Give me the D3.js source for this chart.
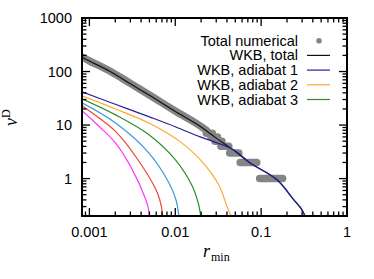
<!DOCTYPE html>
<html>
<head>
<script src="https://d3js.org/d3.v7.min.js"></script>
<style>
body { margin: 0; background: #fff; }
svg { font-family: 'Liberation Sans', Arial, sans-serif; }
</style>
</head>
<body>
<svg width="374" height="279" id="chart"></svg>
<script>
// values: [r_min, nu]
var numericalBand = [[0.00086,182],[0.001,158],[0.00175,101],[0.003,60],[0.005,36.5],[0.01,18.3],[0.0185,10.2],[0.023,8]];
// plateaus of the numerical count: [value, first r, last r]
var numericalSteps = [[7,0.023,0.027],[6,0.026,0.031],[5,0.029,0.035],[4,0.034,0.042],[3,0.043,0.055],[2,0.057,0.089],[1,0.096,0.178]];
var wkbTotal = [[0.00082,185],[0.001,157],[0.00175,100],[0.003,59],[0.005,36],[0.01,18],[0.0185,10],[0.03,5.7],[0.046,3.55],[0.0745,1.96],[0.152,0.96],[0.238,0.41],[0.29,0.28],[0.325,0.2]];
var adiabat1 = [[0.00082,41.8],[0.002,24.5],[0.005,14.2],[0.01,9.3],[0.0195,6.0],[0.0269,5.0],[0.0477,3.47],[0.0745,1.96],[0.152,0.96],[0.238,0.41],[0.29,0.28],[0.325,0.2]];
var adiabat2 = [[0.00082,35],[0.00202,19.9],[0.00494,10.9],[0.012,4.6],[0.0195,2.26],[0.0269,1.2],[0.0333,0.68],[0.0392,0.33],[0.0445,0.2]];
var adiabat3 = [[0.00082,31],[0.00202,15.5],[0.00494,6.6],[0.01,2.26],[0.0158,0.72],[0.0185,0.35],[0.0198,0.2]];
var adiabat4 = [[0.00082,26],[0.00202,10.9],[0.00494,3.0],[0.00845,0.83],[0.0102,0.4],[0.011,0.2]];
var adiabat5 = [[0.00082,23],[0.0013,13.5],[0.00202,7.6],[0.00413,1.7],[0.0062,0.54],[0.0069,0.3],[0.0071,0.2]];
var adiabat6 = [[0.00082,18.5],[0.0013,9.4],[0.00202,4.6],[0.00316,1.47],[0.00452,0.41],[0.0049,0.26],[0.005,0.2]];

var xMajor = [0.001, 0.01, 0.1, 1];
var xMajorLabels = ["0.001", "0.01", "0.1", "1"];
var yMajor = [1, 10, 100, 1000];
var yMajorLabels = ["1", "10", "100", "1000"];
var legendLabels = ["Total numerical", "WKB, total", "WKB, adiabat 1", "WKB, adiabat 2", "WKB, adiabat 3"];

var pLeft = 82, pRight = 347, pTop = 18, pBottom = 216;

var x = d3.scaleLog().domain([0.00082, 1]).range([pLeft, pRight]);
var y = d3.scaleLog().domain([0.2, 1000]).range([pBottom, pTop]);

var svg = d3.select("#chart");

svg.append("clipPath").attr("id", "plot")
  .append("rect").attr("x", pLeft).attr("y", pTop).attr("width", pRight - pLeft).attr("height", pBottom - pTop);

var line = d3.line()
  .x(function (d) { return x(d[0]); })
  .y(function (d) { return y(d[1]); })
  .curve(d3.curveCatmullRom.alpha(0.5));

var g = svg.append("g").attr("clip-path", "url(#plot)");

// numerical points
g.append("path")
  .attr("d", line(numericalBand))
  .attr("fill", "none").attr("stroke", "#858585")
  .attr("stroke-width", 7.5).attr("stroke-linecap", "round").attr("stroke-linejoin", "round");

g.selectAll(".step").data(numericalSteps).enter().append("line")
  .attr("x1", function (d) { return x(d[1]); })
  .attr("x2", function (d) { return x(d[2]); })
  .attr("y1", function (d) { return y(d[0]); })
  .attr("y2", function (d) { return y(d[0]); })
  .attr("stroke", "#858585").attr("stroke-width", 7.5).attr("stroke-linecap", "round");

var curves = [
  [adiabat6, "#ff33ff"],
  [adiabat5, "#ee4433"],
  [adiabat4, "#3399dd"],
  [adiabat3, "#2e8b2e"],
  [adiabat2, "#ffa733"],
  [wkbTotal, "#111111"],
  [adiabat1, "#22229a"]
];
curves.forEach(function (c) {
  g.append("path")
    .attr("d", line(c[0]))
    .attr("fill", "none").attr("stroke", c[1]).attr("stroke-width", 1.2);
});

// ticks
var ticks = svg.append("g").attr("stroke", "#000").attr("stroke-width", 1.3);
var xMinor = [0.0009];
[0.001, 0.01, 0.1].forEach(function (d) { for (var k = 2; k <= 9; k++) xMinor.push(d * k); });
var yMinor = [];
[0.1, 1, 10, 100].forEach(function (d) { for (var k = 2; k <= 9; k++) yMinor.push(d * k); });

function xTicks(vals, len) {
  vals.forEach(function (v) {
    ticks.append("line").attr("x1", x(v)).attr("x2", x(v)).attr("y1", pBottom).attr("y2", pBottom - len);
    ticks.append("line").attr("x1", x(v)).attr("x2", x(v)).attr("y1", pTop).attr("y2", pTop + len);
  });
}
function yTicks(vals, len) {
  vals.forEach(function (v) {
    ticks.append("line").attr("y1", y(v)).attr("y2", y(v)).attr("x1", pLeft).attr("x2", pLeft + len);
    ticks.append("line").attr("y1", y(v)).attr("y2", y(v)).attr("x1", pRight).attr("x2", pRight - len);
  });
}
xTicks(xMajor, 8); xTicks(xMinor, 4.5);
yTicks(yMajor, 8); yTicks(yMinor, 4.5);

svg.append("rect").attr("x", pLeft).attr("y", pTop).attr("width", pRight - pLeft).attr("height", pBottom - pTop)
  .attr("fill", "none").attr("stroke", "#000").attr("stroke-width", 2);

// tick labels
svg.selectAll(".xl").data(xMajor).enter().append("text")
  .attr("x", function (d) { return x(d); }).attr("y", 237)
  .attr("text-anchor", "middle").attr("font-size", 14.5)
  .text(function (d, i) { return xMajorLabels[i]; });
svg.selectAll(".yl").data(yMajor).enter().append("text")
  .attr("x", 72).attr("y", function (d) { return y(d) + 5; })
  .attr("text-anchor", "end").attr("font-size", 14.5)
  .text(function (d, i) { return yMajorLabels[i]; });

// axis titles
var xt = svg.append("text").attr("x", 203).attr("y", 257).attr("font-family", "'Liberation Serif', 'DejaVu Serif', serif");
xt.append("tspan").attr("font-style", "italic").attr("font-size", 18).text("r");
xt.append("tspan").attr("font-size", 12).attr("dy", 4).attr("dx", 1).text("min");

var yt = svg.append("text").attr("transform", "translate(17,126) rotate(-90)")
  .attr("font-family", "'Liberation Serif', 'DejaVu Serif', serif");
yt.append("tspan").attr("font-style", "italic").attr("font-size", 18).text("ν");
yt.append("tspan").attr("font-size", 12).attr("dy", -7).text("D");

// legend
var legend = svg.append("g");
var legendColors = ["#858585", "#111111", "#22229a", "#ffa733", "#2e8b2e"];
legendLabels.forEach(function (t, i) {
  var ly = 40.7 + i * 14.7;
  legend.append("text").attr("x", 298).attr("y", ly + 5).attr("text-anchor", "end")
    .attr("font-size", 14.5).text(t);
  if (i === 0) {
    legend.append("circle").attr("cx", 319).attr("cy", ly).attr("r", 2.8).attr("fill", legendColors[i]);
  } else {
    legend.append("line").attr("x1", 307).attr("x2", 330).attr("y1", ly).attr("y2", ly)
      .attr("stroke", legendColors[i]).attr("stroke-width", 1.2);
  }
});
</script>
</body>
</html>
